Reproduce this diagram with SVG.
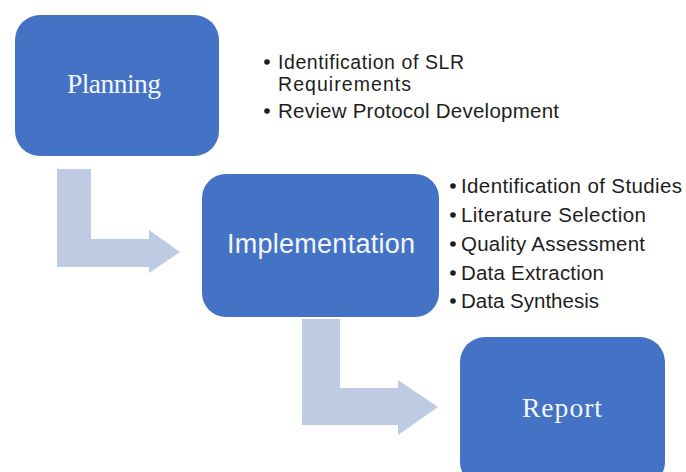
<svg xmlns="http://www.w3.org/2000/svg" width="686" height="472" viewBox="0 0 686 472">
  <style>
    .box { fill: #4472C4; }
    .arrow { fill: #BFCAE3; }
    .serif { font-family: "Liberation Serif", "DejaVu Serif", serif; fill: #F4F6FB; font-size: 27.5px; }
    .sans-title { font-family: "Liberation Sans", Arial, sans-serif; fill: #F4F6FB; font-size: 27px; }
    .item { font-family: "Liberation Sans", Arial, sans-serif; fill: #1E1E1E; font-size: 20.5px; }
    .item-sm { font-family: "Liberation Sans", Arial, sans-serif; fill: #1E1E1E; font-size: 19.5px; }
    .dot { fill: #1E1E1E; }
  </style>
  <rect width="686" height="472" fill="#FFFFFF"/>
  <g id="connectors">
    <polygon class="arrow" points="57,169 91,169 91,239 149,239 149,230 180,252 149,273 149,267 57,267"/>
    <polygon class="arrow" points="302,319 340,319 340,388 398,388 398,380 438,407 398,435 398,425 302,425"/>
  </g>
  <g id="planning">
    <rect class="box" x="15" y="15" width="204" height="141" rx="25"/>
    <text class="serif" x="67" y="93" textLength="94" lengthAdjust="spacing">Planning</text>
  </g>
  <g id="planning-notes">
    <circle class="dot" cx="267" cy="62" r="2.8"/>
    <text class="item-sm" x="278" y="68.5" textLength="186" lengthAdjust="spacing">Identification of SLR</text>
    <text class="item-sm" x="278" y="90.5" textLength="133" lengthAdjust="spacing">Requirements</text>
    <circle class="dot" cx="267" cy="111" r="2.8"/>
    <text class="item" x="278" y="118" textLength="281" lengthAdjust="spacing">Review Protocol Development</text>
  </g>
  <g id="implementation">
    <rect class="box" x="202" y="174" width="237" height="143" rx="24"/>
    <text class="sans-title" x="227" y="253" textLength="188" lengthAdjust="spacing">Implementation</text>
  </g>
  <g id="implementation-notes">
    <circle class="dot" cx="453" cy="186" r="2.8"/>
    <text class="item" x="461" y="193" textLength="221" lengthAdjust="spacing">Identification of Studies</text>
    <circle class="dot" cx="453" cy="215" r="2.8"/>
    <text class="item" x="461" y="222" textLength="185" lengthAdjust="spacing">Literature Selection</text>
    <circle class="dot" cx="453" cy="244" r="2.8"/>
    <text class="item" x="461" y="251" textLength="184" lengthAdjust="spacing">Quality Assessment</text>
    <circle class="dot" cx="453" cy="273" r="2.8"/>
    <text class="item" x="461" y="280" textLength="143" lengthAdjust="spacing">Data Extraction</text>
    <circle class="dot" cx="453" cy="301" r="2.8"/>
    <text class="item" x="461" y="308" textLength="138" lengthAdjust="spacing">Data Synthesis</text>
  </g>
  <g id="report">
    <rect class="box" x="460" y="337" width="205" height="150" rx="25"/>
    <text class="serif" x="522" y="417" textLength="80" lengthAdjust="spacing">Report</text>
  </g>
</svg>
